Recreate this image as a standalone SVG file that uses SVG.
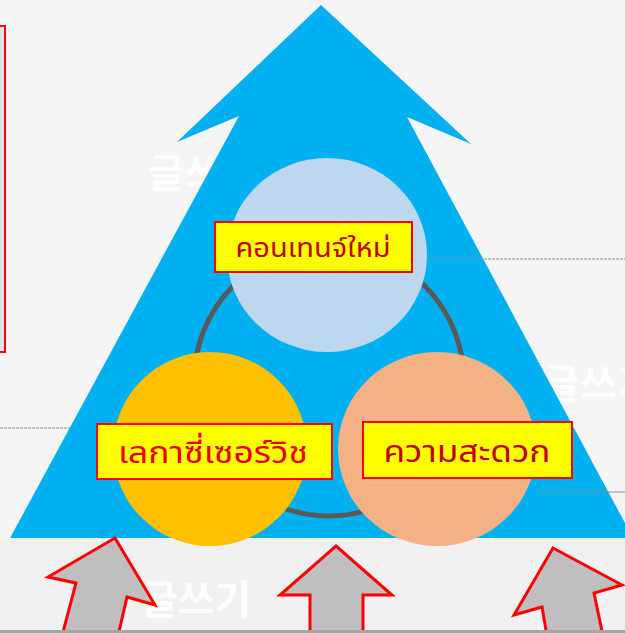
<svg xmlns="http://www.w3.org/2000/svg" width="625" height="633" viewBox="0 0 625 633">
<style>
.wm{font-family:"Noto Sans CJK KR","Noto Sans",sans-serif;font-weight:bold;fill:#FFFFFF;fill-opacity:0.9}
.lbl{fill:#FFFF00;stroke:#FF0000;stroke-width:2}
.th{font-family:"Noto Sans Thai","Noto Sans","DejaVu Sans",sans-serif;text-anchor:middle}
.arr{fill:#BFBFBF;stroke:#FF0000;stroke-width:3;stroke-linejoin:miter}
.gl{stroke:#8C8C8C;stroke-width:1}
</style>
<rect x="0" y="0" width="625" height="633" fill="#F5F5F5"/>
<rect x="0" y="538" width="625" height="95" fill="#F1F1F1"/>
<rect x="-20" y="26" width="25" height="326" fill="#DCE3EC" stroke="#FF0000" stroke-width="2"/>
<text class="wm" x="148" y="187" font-size="40">글쓰기</text>
<text class="wm" x="543" y="398" font-size="40">글쓰기</text>
<text class="wm" x="141" y="614" font-size="40">글쓰기</text>
<line class="gl" x1="0" y1="428" x2="80" y2="428" stroke-dasharray="3 1"/>
<g id="big-arrow">
<polygon points="321,5 471,144 407,117 633,538 10,538 239,116 177,142" fill="#00B0F0"/>
</g>
<line class="gl" x1="428" y1="259" x2="625" y2="259" stroke-dasharray="3 1"/>
<line class="gl" x1="537" y1="492" x2="625" y2="492"/>
<g id="connectors">
<circle cx="329" cy="381" r="135" fill="none" stroke="#595959" stroke-width="5"/>
</g>
<g id="node-content">
<ellipse cx="327" cy="255" rx="100" ry="97" fill="#BDD7EE"/>
<rect class="lbl" x="215" y="222" width="197" height="50"/>
<text class="th" x="313" y="257" font-size="26" fill="#C00000" textLength="155" lengthAdjust="spacingAndGlyphs">คอนเทนจ์ใหม่</text>
</g>
<g id="node-legacy">
<ellipse cx="210" cy="449" rx="97" ry="97" fill="#FFC000"/>
<rect class="lbl" x="97" y="424" width="235" height="55"/>
<text class="th" x="213" y="463" font-size="30" fill="#E60000" textLength="190" lengthAdjust="spacingAndGlyphs">เลกาซี่เซอร์วิช</text>
</g>
<g id="node-convenience">
<ellipse cx="437" cy="449" rx="99" ry="97" fill="#F4B183"/>
<rect class="lbl" x="363" y="422" width="209" height="56"/>
<text class="th" x="467" y="462" font-size="30" fill="#C00000" textLength="167" lengthAdjust="spacingAndGlyphs">ความสะดวก</text>
</g>
<g id="up-arrows">
<polygon class="arr" points="115,538 155,605 127,597 118,636 62,636 76,583 48,577"/>
<polygon class="arr" points="336,546 392,595 363,595 363,636 310,636 310,595 280,595"/>
<polygon class="arr" points="553,548 622,585 594,593 603,636 547,636 542,607 514,615"/>
</g>
<rect x="0" y="630" width="625" height="3" fill="#A6A6A6"/>
</svg>
